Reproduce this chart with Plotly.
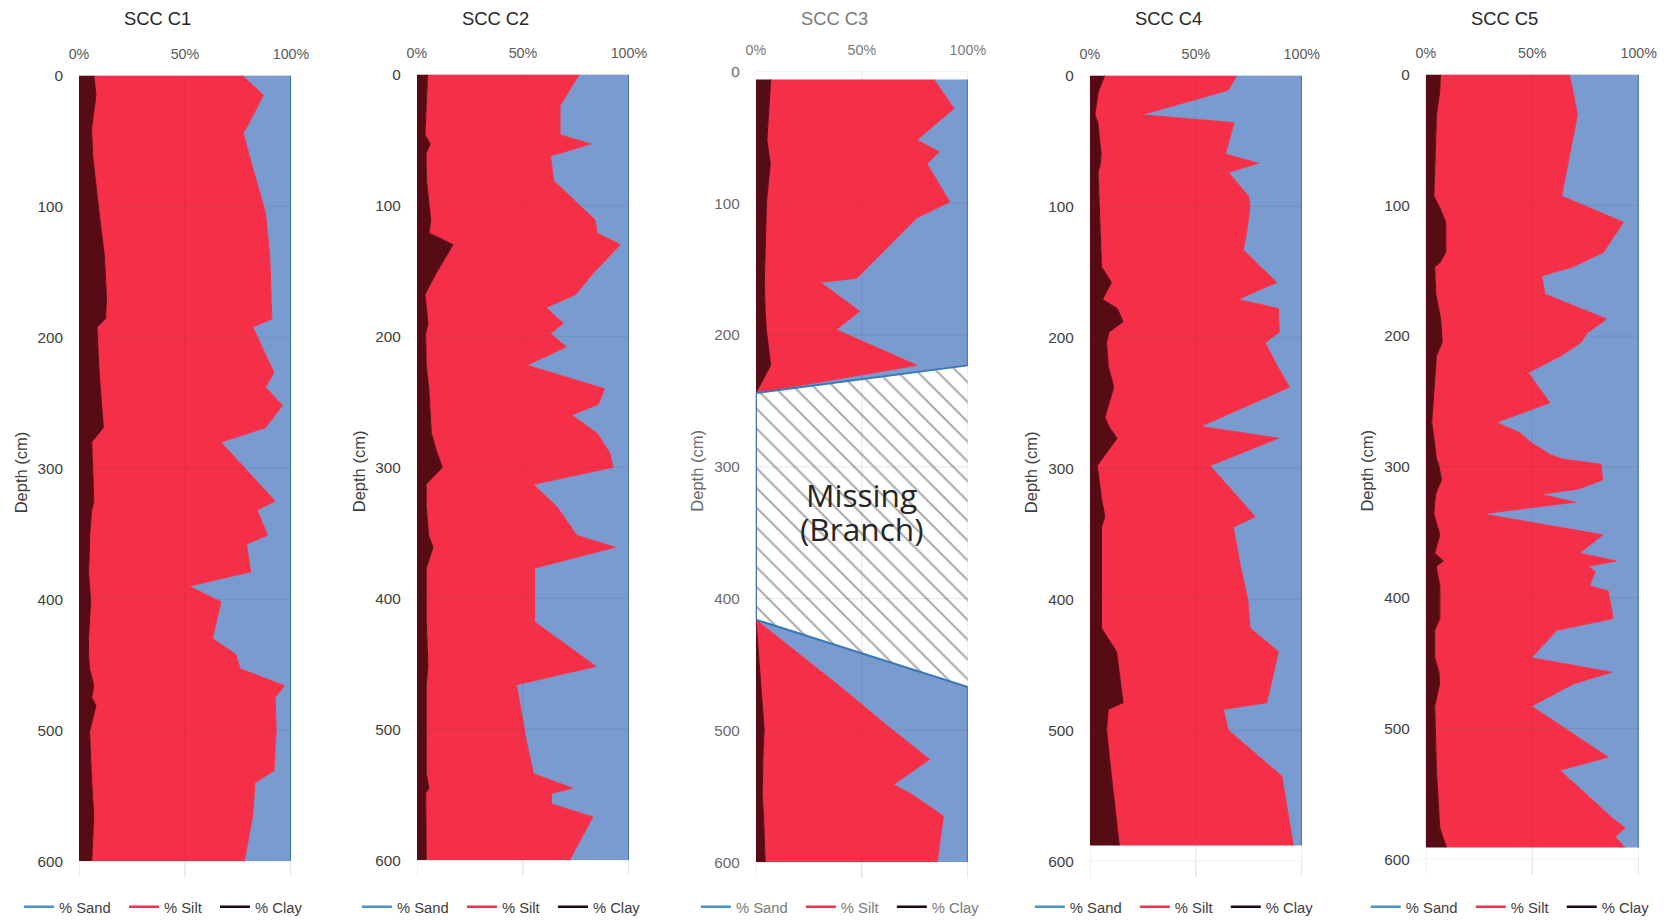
import plotly.graph_objects as go

# ---------------------------------------------------------------------------
# Grain-size profiles (% clay, % silt, % sand) against depth for five cores
# ---------------------------------------------------------------------------
CORE_NAMES = ["SCC C1", "SCC C2", "SCC C3", "SCC C4", "SCC C5"]
DEPTH_TICKS = [0, 100, 200, 300, 400, 500, 600]
PCT_TICKS = [0, 50, 100]
PCT_LABELS = ["0%", "50%", "100%"]
SERIES_NAMES = ["% Sand", "% Silt", "% Clay"]

# SCC C1
c1_depth = [0, 15, 40, 44, 62, 100, 105, 138, 171, 186, 192, 227, 238, 252, 269, 280,
            325, 332, 351, 358, 379, 390, 402, 430, 442, 453, 466, 475, 481, 501, 531,
            540, 565, 600]
c1_clay = [7, 8, 6, 6, 6.5, 9, 9.5, 12, 13, 12.5, 8.5, 9.5, 10, 10.5, 11.5, 6,
           7, 6, 5, 5, 4.5, 5, 5.5, 4.5, 4.5, 5, 7, 6, 8, 5, 5.5,
           6, 7, 6]
c1_silt = [70, 79, 73, 71.5, 74, 78, 78.5, 78, 77.5, 78.5, 73.5, 82.5, 78, 85.5, 76.5, 61,
           85.5, 78, 84, 74, 76.5, 47, 61.5, 58.5, 69.5, 71, 90, 86.5, 84.7, 88, 86.5,
           77, 75, 72]
c1_sand = [23, 13, 21, 22.5, 19.5, 13, 12, 10, 9.5, 9, 18, 8, 12, 4, 12, 33,
           7.5, 16, 11, 21, 19, 48, 33, 37, 26, 24, 3, 7.5, 7.3, 7, 8,
           17, 18, 22]

# SCC C2
c2_depth = [0, 24, 46, 53, 60, 62, 81, 111, 121, 130, 152, 168, 178, 190, 198, 208,
            222, 240, 252, 260, 274, 289, 300, 313, 330, 352, 361, 377, 418, 452, 466,
            508, 534, 545, 549, 557, 567, 600]
c2_clay = [5, 4.5, 3.8, 6.3, 4.4, 4.3, 4.5, 6.5, 5.7, 17, 9, 3.8, 4.5, 5.2, 4.1, 4.3,
           4.4, 5.6, 6, 6.3, 6.8, 9.5, 12, 4.4, 4.4, 5.5, 7.6, 4.4, 4.4, 5.2, 4.4,
           4.4, 4.4, 5.7, 4.1, 4.2, 4.3, 4.4]
c2_silt = [71.5, 63, 63.7, 75.7, 63.6, 58.7, 60, 77.5, 79.3, 79, 74, 71.2, 56.5, 63.8, 58.9, 66.2,
           47.6, 82.9, 79.5, 66.7, 78.2, 81.5, 80.5, 50.6, 61.6, 70, 85.9, 51.1, 51.1, 79.3, 42.6,
           47.1, 50.6, 67.8, 59.4, 59.3, 78.7, 67.6]
c2_sand = [23.5, 32.5, 32.5, 18, 32, 37, 35.5, 16, 15, 4, 17, 25, 39, 31, 37, 29.5,
           48, 11.5, 14.5, 27, 15, 9, 7.5, 45, 34, 24.5, 6.5, 44.5, 44.5, 15.5, 53,
           48.5, 45, 26.5, 36.5, 36.5, 17, 28]

# SCC C3 (no sample between 244 and 416 cm)
c3_depth = [6, 28, 52, 61, 70, 99, 111, 146, 157, 160, 182, 196, 223, 244,
            416, 467, 499, 522, 541, 549, 565, 600]
c3_clay = [7, 6.3, 5.2, 6, 6.8, 5, 4.8, 4.2, 4, 4, 4.4, 4.9, 7, 0,
           0, 2.4, 3.9, 3.3, 2.9, 3, 3.6, 4.4]
c3_silt = [77, 87.2, 70.8, 80.5, 73.9, 86.5, 71.2, 49.8, 43.5, 26.5, 44.6, 33.1, 69, 0,
           0, 37.6, 60.1, 78.7, 62.1, 71, 84.9, 81.1]
c3_sand = [16, 6.5, 24, 13.5, 19.3, 8.5, 24, 46, 52.5, 69.5, 51, 62, 24, 0,
           0, 60, 36, 18, 35, 26, 11.5, 14.5]

# SCC C4
c4_depth = [0, 11, 13, 30, 36, 60, 67, 74, 92, 99, 120, 133, 146, 158, 171, 178,
            188, 196, 204, 222, 238, 261, 268, 277, 298, 323, 337, 345, 374, 400,
            422, 440, 479, 484, 500, 535, 588]
c4_clay = [7, 4.5, 3.9, 2.4, 3.8, 5.3, 5, 3.9, 4.3, 4.5, 4.7, 5, 5.5, 10.2, 6, 13,
           15.7, 9, 7.9, 8.7, 11.3, 7.1, 9, 12.9, 3.5, 5.5, 7.1, 5.5, 5.5, 5.5,
           5.5, 12.6, 15.7, 8.7, 7.9, 10.2, 13.9]
c4_silt = [62.3, 60.9, 57.8, 22, 64.2, 58.7, 74.5, 61.5, 70.5, 71.1, 69.3, 67.4, 75, 78, 64, 76,
           73.5, 80.4, 74.8, 79.8, 82.9, 54.9, 43.3, 76.1, 53.2, 65, 70.9, 62.2, 65.5, 69,
           70.1, 76.4, 67.8, 54.3, 57.5, 80.4, 82.1]
c4_sand = [30.7, 34.6, 38.3, 75.6, 32, 36, 20.5, 34.6, 25.2, 24.4, 26, 27.6, 19.5, 11.8, 30, 11,
           10.8, 10.6, 17.3, 11.5, 5.8, 38, 47.7, 11, 43.3, 29.5, 22, 32.3, 29, 25.5,
           24.4, 11, 16.5, 37, 34.6, 9.4, 4]

# SCC C5
c5_depth = [0, 14, 31, 93, 102, 113, 136, 144, 147, 154, 168, 187, 198, 205, 215, 228,
            251, 266, 274, 282, 291, 294, 298, 310, 317, 321, 327, 331, 336, 352, 366,
            372, 376, 380, 391, 395, 416, 425, 446, 457, 466, 483, 522, 532, 569, 576,
            583, 591]
c5_clay = [6.9, 6.5, 5, 3.8, 6.6, 9.4, 9.4, 6.6, 4.2, 4.3, 4.7, 7, 7.4, 7.7, 5, 4.5,
           3.5, 2.8, 3.5, 4.2, 4.9, 5, 6, 7.4, 5.5, 4.7, 4.2, 4, 3.8, 6.6, 4.2,
           8.2, 5, 5.3, 6.6, 6.6, 6.6, 4.2, 4.2, 6.2, 6.5, 4.2, 4.8, 5, 6.3, 6.6,
           8, 9.7]
c5_silt = [60.5, 62.8, 66.2, 60, 70.4, 83.4, 74, 66.7, 65.1, 50.1, 51.3, 78, 68.1, 65.3, 58.6, 43.6,
           54.8, 30.4, 40.7, 45.8, 53.9, 59.3, 76.3, 75.6, 66.3, 49.1, 66.1, 46.3, 23, 76.6, 68,
           81.3, 71.3, 74.2, 70.4, 79.1, 81.4, 57.3, 45.5, 81.1, 62.8, 45.5, 80.9, 58, 81.7, 87,
           80.9, 83.9]
c5_sand = [32.6, 30.7, 28.8, 36.2, 23, 7.2, 16.6, 26.7, 30.7, 45.6, 44, 15, 24.5, 27, 36.4, 51.9,
           41.7, 66.8, 55.8, 50, 41.2, 35.7, 17.7, 17, 28.2, 46.2, 29.7, 49.7, 73.2, 16.8, 27.8,
           10.5, 23.7, 20.5, 23, 14.3, 12, 38.5, 50.3, 12.7, 30.7, 50.3, 14.3, 37, 12, 6.4,
           11.1, 6.4]

CORES = [
    (c1_depth, c1_clay, c1_silt, c1_sand),
    (c2_depth, c2_clay, c2_silt, c2_sand),
    (c3_depth, c3_clay, c3_silt, c3_sand),
    (c4_depth, c4_clay, c4_silt, c4_sand),
    (c5_depth, c5_clay, c5_silt, c5_sand),
]

# ---------------------------------------------------------------------------
# Styling / layout (positions below are given on a 1671 x 920 design grid)
# ---------------------------------------------------------------------------
GRID_W, GRID_H = 1671, 920
ORIGIN_X, ORIGIN_Y = 10.0, 9.5     # figure origin on the page
SCALE_X, SCALE_Y = 0.983, 0.982    # page pixels per figure pixel
FS = 1 / 0.98                      # font-size factor for the same mapping


def fx(px):
    return (px - ORIGIN_X) / SCALE_X


def fy(py):
    return (py - ORIGIN_Y) / SCALE_Y


W = round(fx(GRID_W))
H = round(fy(GRID_H))


def px_x(px):
    return fx(px) / W


def px_y(py):
    return 1 - fy(py) / H


FONT = "Liberation Sans, Arial, sans-serif"
CLAY_FILL = "#570b15"
SILT_FILL = "#f62f48"
SAND_FILL = "#7a9bd0"
SAND_EDGE = "#3a78b8"
LEGEND_COLORS = {"% Sand": "#4a93d2", "% Silt": "#f0324a", "% Clay": "#1e0808"}
GRID_ABOVE = "rgba(70,70,70,0.14)"
NBSP = "\u00a0"

# plot-area boxes on the design grid: left, right, top (0 cm), bottom (600 cm)
PANELS = [
    (79, 291, 76, 862),
    (417, 629, 75, 861),
    (756, 968, 72, 863),
    (1090, 1302, 76, 862),
    (1426, 1639, 75, 860),
]

fig = go.Figure()
layout = dict(
    width=W, height=H,
    margin=dict(l=0, r=0, t=0, b=0),
    paper_bgcolor="white", plot_bgcolor="white",
    font=dict(family=FONT, color="#404040"),
    showlegend=True,
    annotations=[], shapes=[],
)

for i, (name, (depth, clay, silt, sand), (pl, pr, pt, pb)) in enumerate(
        zip(CORE_NAMES, CORES, PANELS), start=1):
    sfx = "" if i == 1 else str(i)
    xa, ya = f"x{sfx}", f"y{sfx}"
    muted = (i == 3)
    tick_col = "#7a7a7a" if muted else "#595959"

    # hatched "missing" block for the gap in C3
    if i == 3:
        gap = [k for k in range(len(depth)) if clay[k] + silt[k] + sand[k] == 0]
        g0, g1 = gap[0], gap[-1]
        fig.add_trace(go.Scatter(
            x=[100, 0, 0, 100, 100],
            y=[depth[g0 - 1], depth[g0], depth[g1], depth[g1 + 1], depth[g0 - 1]],
            mode="lines", line=dict(width=0), fill="toself",
            fillcolor="white",
            fillpattern=dict(shape="\\", fgcolor="#555555", bgcolor="white",
                             size=14, solidity=0.15),
            hoverinfo="skip", showlegend=False, xaxis=xa, yaxis=ya))

    stack = f"core{i}"
    fig.add_trace(go.Scatter(
        x=clay, y=depth, name="% Clay", stackgroup=stack, orientation="h",
        mode="lines", line=dict(color=CLAY_FILL, width=1), fillcolor=CLAY_FILL,
        showlegend=False, xaxis=xa, yaxis=ya))
    fig.add_trace(go.Scatter(
        x=silt, y=depth, name="% Silt", stackgroup=stack,
        mode="lines", line=dict(color=SILT_FILL, width=1), fillcolor=SILT_FILL,
        showlegend=False, xaxis=xa, yaxis=ya))
    fig.add_trace(go.Scatter(
        x=sand, y=depth, name="% Sand", stackgroup=stack,
        mode="lines", line=dict(color=SAND_EDGE, width=2), fillcolor=SAND_FILL,
        showlegend=False, xaxis=xa, yaxis=ya))

    # legend entries (line keys) under every panel
    leg = "legend" if i == 1 else f"legend{i}"
    for s in SERIES_NAMES:
        fig.add_trace(go.Scatter(
            x=[None], y=[None], mode="lines", name=s + NBSP + NBSP,
            line=dict(color=LEGEND_COLORS[s], width=2.5),
            legend=leg, xaxis=xa, yaxis=ya))
    layout[leg] = dict(
        orientation="h", x=px_x(pl - 60), xanchor="left",
        y=px_y(908), yanchor="middle", traceorder="normal",
        bgcolor="rgba(0,0,0,0)", itemwidth=30,
        font=dict(family=FONT, size=14.5 * FS, color="#7a7a7a" if muted else "#404040"),
    )

    layout[f"xaxis{sfx}"] = dict(
        domain=[px_x(pl), px_x(pr)], anchor=ya, side="top",
        range=[0, 100], tickvals=PCT_TICKS, ticktext=PCT_LABELS,
        showgrid=False, zeroline=False, showline=False,
        ticks="outside", ticklen=10, tickcolor="rgba(0,0,0,0)",
        tickfont=dict(family=FONT, size=14 * FS, color=tick_col), fixedrange=True,
    )
    layout[f"yaxis{sfx}"] = dict(
        domain=[px_y(pb), px_y(pt)], anchor=xa,
        range=[600, 0], tickvals=DEPTH_TICKS,
        showgrid=False, zeroline=False, showline=False,
        ticks="outside", ticklen=12, tickcolor="rgba(0,0,0,0)",
        tickfont=dict(family=FONT, size=15 * FS, color="#6a6a6a" if muted else "#404040"),
        fixedrange=True,
    )

    # gridlines drawn over the areas
    for d in DEPTH_TICKS:
        layout["shapes"].append(dict(
            type="line", xref=xa, yref=ya, x0=0, x1=100, y0=d, y1=d,
            line=dict(color=GRID_ABOVE, width=1), layer="above"))
    for p in PCT_TICKS:
        layout["shapes"].append(dict(
            type="line", xref=xa, yref=ya, x0=p, x1=p, y0=0, y1=600,
            line=dict(color=GRID_ABOVE, width=1), layer="above"))
        layout["shapes"].append(dict(
            type="line", xref=xa, yref=f"{ya} domain", x0=p, x1=p, y0=0, y1=-0.02,
            line=dict(color="#d9d9d9", width=1), layer="above"))

    # panel title and depth label
    layout["annotations"].append(dict(
        text=name, xref="paper", yref="paper",
        x=px_x(pl + 78.5), y=px_y(19), xanchor="center", yanchor="middle",
        showarrow=False,
        font=dict(family=FONT, size=18 * FS, color="#7a7a7a" if muted else "#262626")))
    layout["annotations"].append(dict(
        text="Depth (cm)", xref="paper", yref="paper",
        x=px_x(pl - 58), y=px_y((pt + pb) / 2 + 4), xanchor="center", yanchor="middle",
        textangle=-90, showarrow=False,
        font=dict(family=FONT, size=16.2 * FS, color="#6a6a6a" if muted else "#404040")))

# label inside the missing interval of C3
for txt, d in (("Missing", 321), ("(Branch)", 347)):
    layout["annotations"].append(dict(
        text=txt, xref="x3", yref="y3", x=50, y=d,
        xanchor="center", yanchor="middle", showarrow=False,
        font=dict(family="Open Sans, sans-serif", size=31 * FS, color="#262626")))

fig.update_layout(**layout)
fig.write_html("out.html")
